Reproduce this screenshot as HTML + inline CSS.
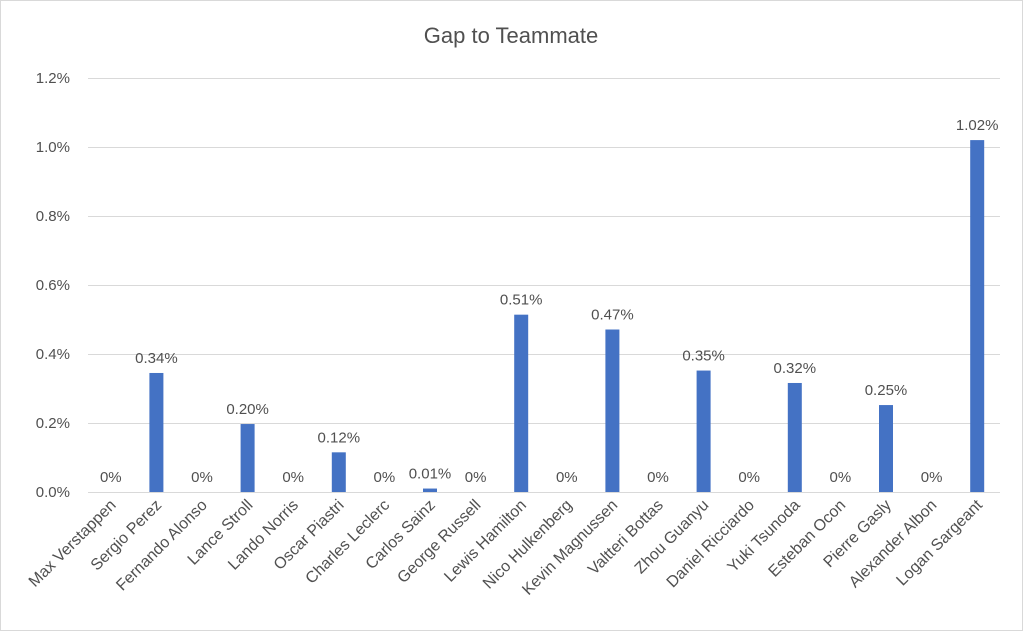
<!DOCTYPE html>
<html><head><meta charset="utf-8"><style>body{margin:0;background:#fff}svg{display:block}text{font-family:"Liberation Sans",sans-serif;fill:#505050}</style></head>
<body>
<svg width="1023" height="631" viewBox="0 0 1023 631" xmlns="http://www.w3.org/2000/svg">
<rect x="0.5" y="0.5" width="1022" height="630" fill="#fff" stroke="#d9d9d9"/>
<text x="511" y="43" font-size="22" text-anchor="middle">Gap to Teammate</text>
<g stroke="#d9d9d9" stroke-width="1">
<line x1="88" x2="1000" y1="78.5" y2="78.5"/><line x1="88" x2="1000" y1="147.5" y2="147.5"/><line x1="88" x2="1000" y1="216.5" y2="216.5"/><line x1="88" x2="1000" y1="285.5" y2="285.5"/><line x1="88" x2="1000" y1="354.5" y2="354.5"/><line x1="88" x2="1000" y1="423.5" y2="423.5"/><line x1="88" x2="1000" y1="492.5" y2="492.5"/>
</g>
<g font-size="15" text-anchor="end">
<text x="70" y="83">1.2%</text><text x="70" y="152">1.0%</text><text x="70" y="221">0.8%</text><text x="70" y="290">0.6%</text><text x="70" y="359">0.4%</text><text x="70" y="428">0.2%</text><text x="70" y="497">0.0%</text>
</g>
<g id="bars" fill="#4472c4"></g>
<g id="lbl" font-size="15" text-anchor="middle"></g>
<g id="cat" font-size="16" text-anchor="end"></g>
</svg>
<script>
(function(){
var names=["Max Verstappen","Sergio Perez","Fernando Alonso","Lance Stroll","Lando Norris","Oscar Piastri","Charles Leclerc","Carlos Sainz","George Russell","Lewis Hamilton","Nico Hulkenberg","Kevin Magnussen","Valtteri Bottas","Zhou Guanyu","Daniel Ricciardo","Yuki Tsunoda","Esteban Ocon","Pierre Gasly","Alexander Albon","Logan Sargeant"];
var v=[0,0.345,0,0.197,0,0.115,0,0.01,0,0.514,0,0.471,0,0.352,0,0.316,0,0.252,0,1.02];
var t=["0%","0.34%","0%","0.20%","0%","0.12%","0%","0.01%","0%","0.51%","0%","0.47%","0%","0.35%","0%","0.32%","0%","0.25%","0%","1.02%"];
var NS="http://www.w3.org/2000/svg",b=document.getElementById("bars"),l=document.getElementById("lbl"),c=document.getElementById("cat");
for(var i=0;i<20;i++){var cx=88+45.6*(i+0.5);var h=v[i]/1.2*414;var yTop=492-h;
if(h>0){var r=document.createElementNS(NS,"rect");r.setAttribute("x",cx-7);r.setAttribute("y",yTop);r.setAttribute("width",14);r.setAttribute("height",h);b.appendChild(r);}
var tx=document.createElementNS(NS,"text");tx.setAttribute("x",cx);tx.setAttribute("y",yTop-10);tx.textContent=t[i];l.appendChild(tx);
var ct=document.createElementNS(NS,"text");ct.setAttribute("transform","translate("+(cx+6)+",506) rotate(-45)");ct.textContent=names[i];c.appendChild(ct);}
})();
</script>
</body></html>
